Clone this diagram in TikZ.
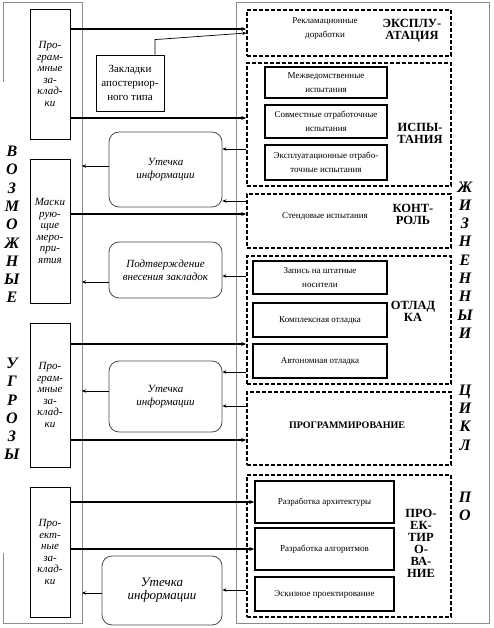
\documentclass[tikz,border=0pt]{standalone}
\usepackage{fontspec}
\setmainfont{Liberation Serif}
\usetikzlibrary{arrows.meta}

\begin{document}
\begin{tikzpicture}[x=1pt,y=-1pt,
		>={Stealth[length=4pt,width=3.5pt]},
		panel/.style={inner sep=0,outer sep=0},
		frame/.style={draw=black!45,line width=0.8},
		threat/.style={draw,line width=0.8,minimum width=40,inner sep=1,align=center,font=\fontsize{11}{11.5}\selectfont\itshape},
		leak/.style={draw=black!70,line width=0.8,rounded corners=10,minimum width=113,align=center,font=\fontsize{11}{12.5}\selectfont\itshape},
		stage/.style={draw,line width=1.6,dash pattern=on 4pt off 2pt,minimum width=204},
		task/.style={draw,line width=1.6,inner sep=1,align=center,font=\fontsize{9}{13.5}\selectfont},
		note/.style={align=center,font=\fontsize{9}{14}\selectfont},
		stagename/.style={align=center,font=\fontsize{12.5}{12}\selectfont\bfseries},
		vword/.style={align=center,inner sep=0,font=\fontsize{16}{18.3}\selectfont\bfseries\itshape},
		feed/.style={->,line width=2,>={Stealth[length=5pt,width=4pt]}},
		leakarrow/.style={->,line width=0.7}]
	\useasboundingbox (0,0) rectangle (493,628);

	% frames
	\node[panel,minimum width=79,minimum height=621] (threats) at (42.5,312.5) {};
	\node[panel,frame,minimum width=253,minimum height=621] (lifecycle) at (362.5,312.5) {};
	\draw[frame] ([yshift=-80pt]threats.north west) -- (threats.north west) -- (threats.north east)
		-- (threats.south east) -- (threats.south west) -- ([yshift=70pt]threats.south west);

	\node[vword] (possible) at (12,224.5) {В\\О\\З\\М\\О\\Ж\\Н\\Ы\\Е};
	\node[vword] (threatword) at (12,409) {У\\Г\\Р\\О\\З\\Ы};
	\node[vword] (lifeword) at (465,260) {Ж\\И\\З\\Н\\Е\\Н\\Н\\Ы\\И};
	\node[vword] (cycleword) at (465,417.5) {Ц\\И\\К\\Л};
	\node[vword] (softword) at (465,506) {П\\О};

	% threats
	\node[threat,minimum height=130] (progA) at (50,74) {Про-\\грам-\\мные\\за-\\клад-\\ки};
	\node[threat,minimum height=144] (mask) at (50,231) {Маски\\рую-\\щие\\меро-\\при-\\ятия};
	\node[threat,minimum height=144] (progB) at (50,395) {Про-\\грам-\\мные\\за-\\клад-\\ки};
	\node[threat,minimum height=130] (proj) at (50,552) {Про-\\ект-\\ные\\за-\\клад-\\ки};

	\node[draw,line width=0.8,minimum width=68,minimum height=56,inner sep=1,align=center,
		font=\fontsize{11}{14}\selectfont] (apost) at (130,83) {Закладки\\апостериор-\\ного типа};

	\node[leak,minimum height=75] (leakA) at (165.5,169.5) {Утечка\\информации};
	\node[leak,minimum height=56] (confirm) at (165.5,270) {Подтверждение\\внесения закладок};
	\node[leak,minimum height=71] (leakB) at (165.5,396.5) {Утечка\\информации};
	\node[leak,minimum width=120,minimum height=69,font=\fontsize{13}{13}\selectfont\itshape] (leakC) at (162,590.5) {Утечка\\информации};

	% life cycle stages
	\node[stage,minimum height=46] (expl) at (349,33) {};
	\node[note] (reclaim) at (325,29) {Рекламационные\\доработки};
	\node[stagename] (explname) at (412,31) {ЭКСПЛУ-\\АТАЦИЯ};

	\node[stage,minimum height=123] (tests) at (349,124.5) {};
	\node[task,minimum width=122,minimum height=31] (interdept) at (326,82.5) {Межведомственные\\испытания};
	\node[task,minimum width=122,minimum height=33] (joint) at (326,121.5) {Совместные отработочные\\испытания};
	\node[task,minimum width=122,minimum height=35] (fieldtest) at (326,162.5) {Эксплуатационные отрабо-\\точные испытания};
	\node[stagename] (testsname) at (420,133) {ИСПЫ-\\ТАНИЯ};

	\node[stage,minimum height=54] (ctrl) at (349,221) {};
	\node[note] (bench) at (325,216) {Стендовые испытания};
	\node[stagename] (ctrlname) at (413,214) {КОНТ-\\РОЛЬ};

	\node[stage,minimum height=128] (debug) at (349,320) {};
	\node[task,minimum width=134,minimum height=33] (media) at (320,277.5) {Запись на штатные\\носители};
	\node[task,minimum width=134,minimum height=34] (complex) at (320,320) {Комплексная отладка};
	\node[task,minimum width=134,minimum height=34] (autonomous) at (320,361) {Автономная отладка};
	\node[stagename] (debugname) at (413,311) {ОТЛАД\\КА};

	\node[stage,minimum height=73] (coding) at (349,428.5) {};
	\node[stagename,font=\fontsize{10}{10}\selectfont\bfseries] (codingname) at (347,425) {ПРОГРАММИРОВАНИЕ};

	\node[stage,minimum height=142] (design) at (349,546) {};
	\node[task,minimum width=139,minimum height=42] (arch) at (324.5,502) {Разработка архитектуры};
	\node[task,minimum width=139,minimum height=42] (algo) at (324.5,549) {Разработка алгоритмов};
	\node[task,minimum width=139,minimum height=34] (sketch) at (324.5,594) {Эскизное проектирование};
	\node[stagename] (designname) at (421,543) {ПРО-\\ЕК-\\ТИР\\О-\\ВА-\\НИЕ};

	% threats into stages
	\draw[feed] (progA.east |- 0,29) -- (expl.west |- 0,29);
	\draw[feed] (progA.east |- 0,118) -- (tests.west |- 0,118);
	\draw[feed] (mask.east |- 0,214) -- (ctrl.west |- 0,214);
	\draw[feed] (progB.east |- 0,344) -- (debug.west |- 0,344);
	\draw[feed] (progB.east |- 0,440) -- (coding.west |- 0,440);
	\draw[feed] (proj.east |- 0,502) -- (arch.west);
	\draw[feed] (proj.east |- 0,549) -- (algo.west);
	\draw[leakarrow] ([xshift=25pt]apost.north) -- ++(0,-15) -- (expl.west |- 0,33);

	% leaks back
	\draw[leakarrow] (tests.west |- 0,149) -- (leakA.east |- 0,149);
	\draw[leakarrow] (ctrl.west |- 0,201) -- (leakA.east |- 0,201);
	\draw[leakarrow] (leakA.west |- 0,166) -- (threats.east |- 0,166);
	\draw[leakarrow] (debug.west |- 0,276) -- (confirm.east |- 0,276);
	\draw[leakarrow] (confirm.west |- 0,282) -- (threats.east |- 0,282);
	\draw[leakarrow] (debug.west |- 0,372) -- (leakB.east |- 0,372);
	\draw[leakarrow] (coding.west |- 0,406) -- (leakB.east |- 0,406);
	\draw[leakarrow] (leakB.west |- 0,391) -- (threats.east |- 0,391);
	\draw[leakarrow] (design.west |- 0,590) -- (leakC.east |- 0,590);
	\draw[leakarrow] (leakC.west |- 0,593) -- (threats.east |- 0,593);
\end{tikzpicture}
\end{document}
